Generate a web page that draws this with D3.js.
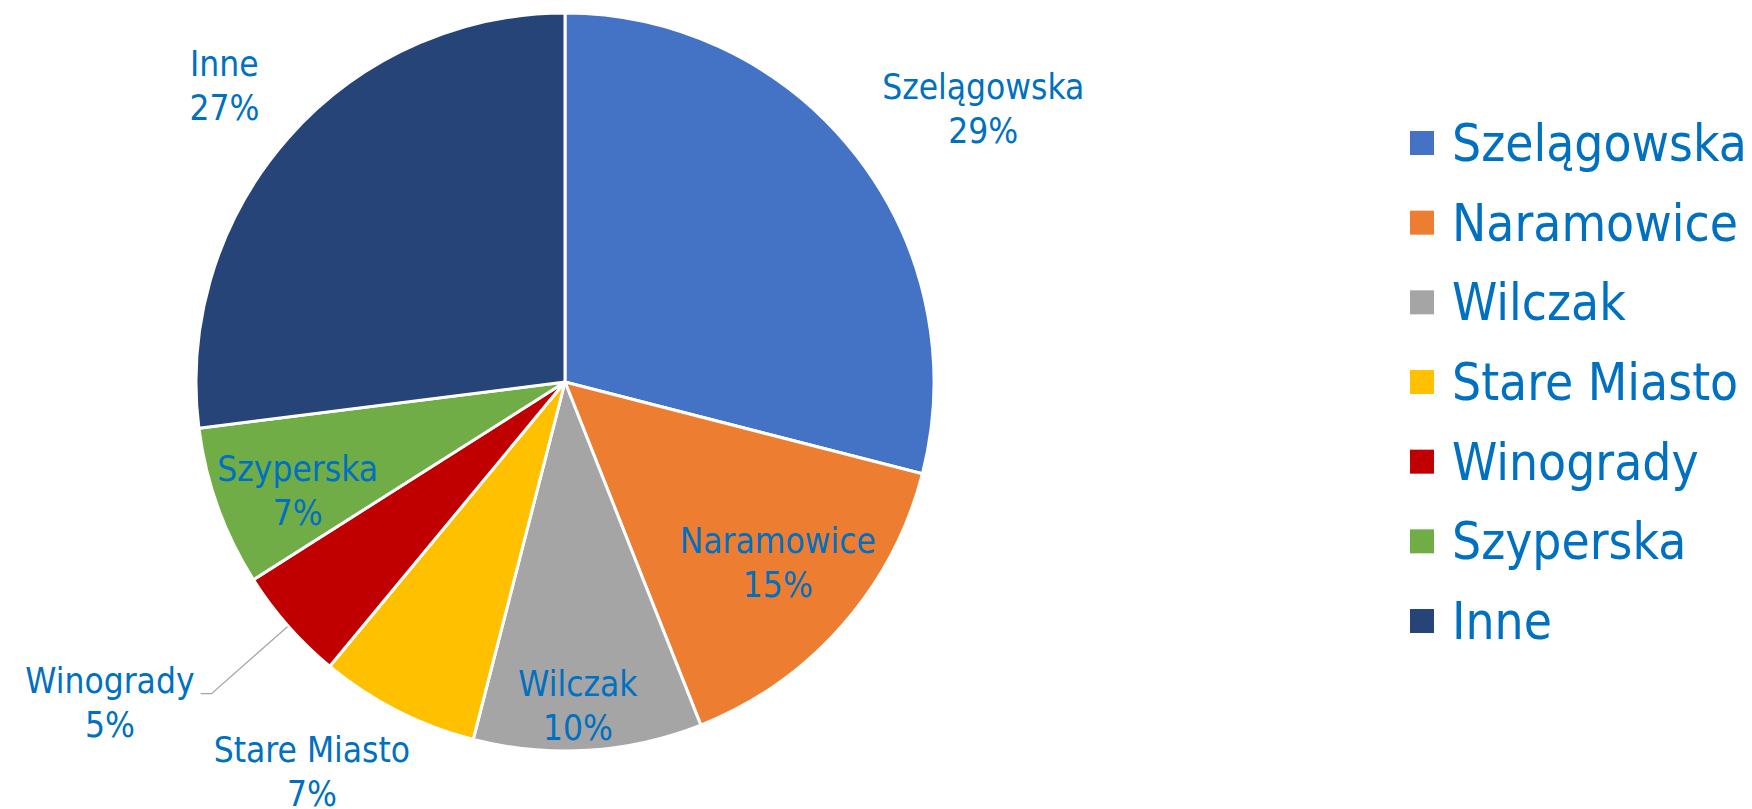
<!DOCTYPE html>
<html>
<head>
<meta charset="utf-8">
<script src="https://cdn.jsdelivr.net/npm/d3@7"></script>
<style>
    body { margin: 0; background: white; }
    text { font-family: "DejaVu Sans Condensed", "DejaVu Sans", sans-serif; font-stretch: condensed; fill: #0070C0; }
</style>
</head>
<body>
<div id="chart"></div>
<script>
// dane
const districts = ["Szelągowska", "Naramowice", "Wilczak", "Stare Miasto", "Winogrady", "Szyperska", "Inne"];
const shares = [29, 15, 10, 7, 5, 7, 27];
const sliceColors = ["#4472C4", "#ED7D31", "#A5A5A5", "#FFC000", "#C00000", "#70AD47", "#264478"];
// where each label sits, as a fraction of the radius (>1 = outside), plus a small nudge
const labelRadius = [1.05, 0.74, 0.86, 1.05, 1.277, 0.77, 1.05];
const labelShift = [[11, 4], [8, 0], [-7, 7], [21, 5], [0, 0], [0, 13], [-15, 0]];

const
    width = 1752,
    height = 809,
    cx = 565,
    cy = 382,
    radius = 369;

var data = districts.map((d, i) => ({ name: d, share: shares[i], color: sliceColors[i], lr: labelRadius[i], shift: labelShift[i] }));

var svg = d3
    .select("#chart")
    .append("svg")
    .attr("width", width)
    .attr("height", height)

var g = svg.append("g")
    .attr("transform", `translate(${cx}, ${cy})`)

var pie = d3.pie()
    .sort(null)
    .value(d => d.share);

var arc = d3.arc()
    .innerRadius(0)
    .outerRadius(radius);

var arcs = pie(data);

g.selectAll("path.slice")
    .data(arcs)
    .enter()
    .append("path")
    .attr("class", "slice")
    .attr("d", arc)
    .style("fill", d => d.data.color)
    .style("stroke", "white")
    .style("stroke-width", 3)
    .style("stroke-linejoin", "round")

const fontSize = 35, lineGap = 44, boxH = 80;

arcs.forEach(function (d) {
    var mid = (d.startAngle + d.endAngle) / 2;
    var sx = Math.sin(mid), sy = -Math.cos(mid);
    var r = radius * d.data.lr;

    var label = g.append("text")
        .style("font-size", fontSize + "px")
        .style("text-anchor", "middle");
    var l1 = label.append("tspan").text(d.data.name);
    var l2 = label.append("tspan").text(d.data.share + "%");
    var w = Math.max(l1.node().getComputedTextLength(), l2.node().getComputedTextLength());

    var x, top;
    if (d.data.lr < 1) {
        // inside the slice, centred
        x = sx * r;
        top = sy * r - boxH / 2;
    } else if (d.data.lr > 1.2) {
        // label with a leader line
        var px = sx * r, py = sy * r;
        g.append("polyline")
            .attr("points", [[sx * (radius + 1), sy * (radius + 1)], [px, py], [px - 11, py]].map(p => p.join(",")).join(" "))
            .style("fill", "none")
            .style("stroke", "#A6A6A6")
            .style("stroke-width", 1.3)
        x = px - 11 - 6 - w / 2;
        top = py - 31;
    } else {
        var px = sx * r, py = sy * r;
        x = sx >= 0 ? px + w / 2 : px - w / 2;
        top = sy >= 0 ? py : py - boxH;
    }
    x += d.data.shift[0];
    top += d.data.shift[1];

    l1.attr("x", x).attr("y", top + 30);
    l2.attr("x", x).attr("y", top + 30 + lineGap);
});

// legenda
var ly = d3.scalePoint()
    .domain(districts)
    .range([143, 621]);

var legend = svg.selectAll("g.legend")
    .data(data)
    .enter()
    .append("g")
    .attr("class", "legend")
    .attr("transform", d => `translate(1410, ${ly(d.name)})`)

legend.append("rect")
    .attr("x", 0)
    .attr("y", -12)
    .attr("width", 24)
    .attr("height", 24)
    .style("fill", d => d.color)

legend.append("text")
    .attr("x", 42)
    .attr("y", 18)
    .style("font-size", "51px")
    .text(d => d.name)
</script>
</body>
</html>
